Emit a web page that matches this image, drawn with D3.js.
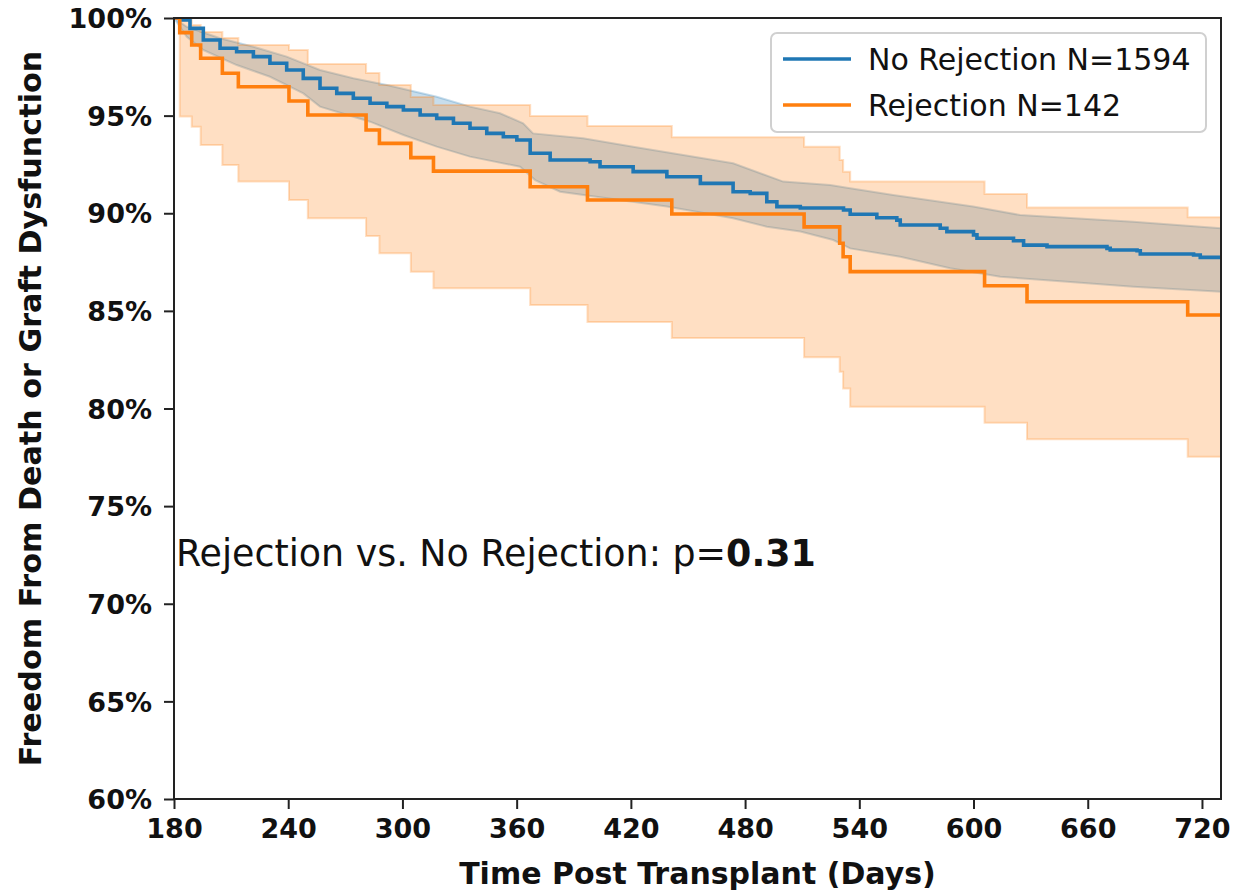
<!DOCTYPE html>
<html>
<head>
<meta charset="utf-8">
<script src="https://cdn.jsdelivr.net/npm/d3@7"></script>
<style>
  html, body { margin: 0; padding: 0; background: #ffffff; }
  svg { display: block; }
  text { font-family: "DejaVu Sans", sans-serif; }
</style>
</head>
<body>
<svg id="chart" width="1235" height="895"></svg>
<script>
// ---------------- DATA ----------------
const xTicks = [180, 240, 300, 360, 420, 480, 540, 600, 660, 720];
const yTicks = [60, 65, 70, 75, 80, 85, 90, 95, 100];
const seriesNames = ["No Rejection N=1594", "Rejection N=142"];

// Rejection (orange) Kaplan-Meier: event days, survival %, CI bounds %
const rejDays  = [180, 183, 189.3, 194.0, 205.4, 213.8, 240.4, 250.3, 280.9, 287.9, 304.4, 316.3, 367.1, 397.2, 441.5, 511.0, 529.7, 531.5, 535.2, 605.8, 628.1, 712.5];
const rejSurv  = [100, 99.25, 98.62, 97.94, 97.17, 96.48, 95.75, 95.03, 94.26, 93.58, 92.85, 92.16, 91.36, 90.68, 89.96, 89.30, 88.46, 87.77, 87.01, 86.29, 85.47, 84.79];
const rejLower = [100, 94.96, 94.43, 93.50, 92.47, 91.62, 90.68, 89.74, 88.83, 87.95, 87.01, 86.16, 85.30, 84.43, 83.61, 82.62, 81.88, 81.03, 80.09, 79.27, 78.42, 77.53];
const rejUpper = [100, 99.95, 99.64, 99.28, 98.98, 98.62, 98.36, 97.64, 97.18, 96.57, 95.95, 95.54, 94.98, 94.47, 93.89, 93.41, 92.73, 92.13, 91.62, 90.99, 90.30, 89.79];

// No Rejection (blue) Kaplan-Meier
const noRejDays = [180, 184.7, 188.4, 195.4, 204.2, 212.9, 221.7, 230.4, 239.2, 247.9, 256.7, 265.5, 274.2, 283.0, 291.8, 300.5, 309.3, 318.0, 326.8, 335.5, 344.3, 353.0, 360.1, 367.1, 377.6, 398.6, 403.8, 421.2, 438.9, 456.5, 473.7, 482.7, 491.4, 496.7, 509.0, 531.7, 535.2, 549.2, 559.7, 561.5, 582.5, 586.0, 600.0, 601.8, 621.0, 626.3, 638.6, 670.1, 671.8, 685.9, 687.6, 715.6, 719.1];
const noRejSurv = [100, 99.90, 99.47, 98.87, 98.45, 98.27, 98.02, 97.68, 97.34, 96.91, 96.40, 96.14, 95.89, 95.63, 95.46, 95.29, 95.03, 94.86, 94.61, 94.35, 94.09, 93.92, 93.75, 93.07, 92.73, 92.64, 92.38, 92.13, 91.87, 91.53, 91.10, 91.02, 90.59, 90.34, 90.27, 90.17, 89.95, 89.77, 89.65, 89.40, 89.23, 89.06, 88.89, 88.72, 88.59, 88.37, 88.29, 88.20, 88.12, 88.08, 87.91, 87.86, 87.74];

// No Rejection CI edges, read along the band borders
const noRejUpperDays = [180, 186.7, 204.2, 221.7, 239.2, 256.7, 274.2, 291.8, 318.0, 335.5, 351.3, 363.4, 368.6, 394.9, 421.2, 447.5, 473.7, 500.0, 524.7, 535.2, 557.8, 582.5, 599.8, 624.5, 683.9, 730];
const noRejUpper     = [100, 99.55, 98.96, 98.53, 98.02, 97.34, 96.91, 96.57, 95.97, 95.46, 95.12, 94.61, 94.09, 93.84, 93.41, 92.98, 92.56, 91.62, 91.45, 91.28, 90.93, 90.59, 90.34, 89.91, 89.57, 89.23];

const noRejLowerDays = [180, 186.7, 195.4, 212.9, 230.4, 247.9, 256.7, 265.5, 283.0, 300.5, 318.0, 335.5, 361.8, 369.7, 382.8, 438.9, 473.7, 491.4, 509.0, 526.3, 535.2, 561.5, 587.7, 614.0, 649.2, 683.9, 730];
const noRejLower     = [100, 99.04, 98.36, 97.59, 96.99, 96.14, 95.46, 95.20, 94.69, 94.01, 93.41, 92.90, 92.38, 91.70, 91.10, 90.34, 89.74, 89.31, 89.06, 88.63, 88.20, 87.77, 87.18, 86.75, 86.49, 86.24, 85.98];

const xDomain = [180, 730];
const yDomain = [60, 100];
const pValueLabel = "Rejection vs. No Rejection: p=";
const pValue = "0.31";

// ---------------- LAYOUT ----------------
const svg = d3.select("#chart");
const pL = 174, pR = 1221, pT = 18, pB = 799;
const blue = "#1f77b4", orange = "#ff7f0e";

const x = d3.scaleLinear().domain(xDomain).range([pL, pR]);
const y = d3.scaleLinear().domain(yDomain).range([pB, pT]);

svg.append("defs").append("clipPath").attr("id", "clip")
  .append("rect").attr("x", pL).attr("y", pT).attr("width", pR - pL).attr("height", pB - pT);

// step-after point list (in pixels), extended to the end of the domain
function stepPoints(days, vals) {
  const pts = [];
  for (let i = 0; i < days.length; i++) {
    const xe = i + 1 < days.length ? days[i + 1] : xDomain[1];
    pts.push([x(days[i]), y(vals[i])]);
    pts.push([x(xe), y(vals[i])]);
  }
  return pts;
}
// points joined directly (for the densely stepped large-sample band)
function tracePoints(days, vals) {
  return days.map((d, i) => [x(d), y(vals[i])]);
}
const lineGen = d3.line();

const plot = svg.append("g").attr("clip-path", "url(#clip)");

// Blue CI band
const blueBand = tracePoints(noRejUpperDays, noRejUpper)
  .concat(tracePoints(noRejLowerDays, noRejLower).reverse());
plot.append("path")
  .attr("d", lineGen(blueBand) + "Z")
  .attr("fill", blue).attr("fill-opacity", 0.25)
  .attr("stroke", blue).attr("stroke-opacity", 0.25).attr("stroke-width", 2);

// Orange CI band
const orangeBand = stepPoints(rejDays, rejUpper).concat(stepPoints(rejDays, rejLower).reverse());
plot.append("path")
  .attr("d", lineGen(orangeBand) + "Z")
  .attr("fill", orange).attr("fill-opacity", 0.25)
  .attr("stroke", orange).attr("stroke-opacity", 0.25).attr("stroke-width", 2);

// Lines
plot.append("path")
  .attr("d", lineGen(stepPoints(noRejDays, noRejSurv)))
  .attr("fill", "none").attr("stroke", blue).attr("stroke-width", 3.6);
plot.append("path")
  .attr("d", lineGen(stepPoints(rejDays, rejSurv)))
  .attr("fill", "none").attr("stroke", orange).attr("stroke-width", 3.6);

// ---------------- AXES ----------------
const yAxis = svg.append("g").attr("transform", `translate(${pL},0)`)
  .call(d3.axisLeft(y).tickValues(yTicks).tickFormat(d => d + "%").tickSize(10).tickPadding(12));
const xAxis = svg.append("g").attr("transform", `translate(0,${pB})`)
  .call(d3.axisBottom(x).tickValues(xTicks).tickFormat(d3.format("d")).tickSize(10).tickPadding(10));

[yAxis, xAxis].forEach(g => {
  g.select(".domain").remove();
  g.selectAll(".tick line").attr("stroke", "#222").attr("stroke-width", 2);
  g.selectAll(".tick text").attr("fill", "#111")
    .style("font-family", "'DejaVu Sans', sans-serif")
    .style("font-weight", "bold").style("font-size", "27px");
});
yAxis.selectAll(".tick text").attr("dy", "0.36em");

// frame (spines)
svg.append("rect").attr("x", pL).attr("y", pT).attr("width", pR - pL).attr("height", pB - pT)
  .attr("fill", "none").attr("stroke", "#222").attr("stroke-width", 2);

// axis titles
svg.append("text")
  .attr("x", (pL + pR) / 2).attr("y", 884)
  .attr("text-anchor", "middle").attr("fill", "#111")
  .style("font-weight", "bold").style("font-size", "30px")
  .text("Time Post Transplant (Days)");
svg.append("text")
  .attr("transform", `translate(41,${(pT + pB) / 2}) rotate(-90)`)
  .attr("text-anchor", "middle").attr("fill", "#111")
  .style("font-weight", "bold").style("font-size", "30.2px")
  .text("Freedom From Death or Graft Dysfunction");

// p-value annotation
const ann = svg.append("text").attr("x", x(181)).attr("y", 566)
  .attr("fill", "#111").style("font-size", "36.4px");
ann.append("tspan").text(pValueLabel);
ann.append("tspan").style("font-weight", "bold").text(pValue);

// ---------------- LEGEND ----------------
const lg = svg.append("g");
lg.append("rect").attr("x", 771).attr("y", 33).attr("width", 435).attr("height", 99).attr("rx", 6)
  .attr("fill", "#fff").attr("fill-opacity", 0.8).attr("stroke", "#d0d0d0").attr("stroke-width", 2);
[blue, orange].forEach((c, i) => {
  const cy = 59 + i * 46;
  lg.append("line").attr("x1", 783).attr("x2", 851).attr("y1", cy).attr("y2", cy)
    .attr("stroke", c).attr("stroke-width", 3.6);
  lg.append("text").attr("x", 868).attr("y", cy).attr("dy", "0.36em")
    .attr("fill", "#111").style("font-size", "30px").text(seriesNames[i]);
});
</script>
</body>
</html>
